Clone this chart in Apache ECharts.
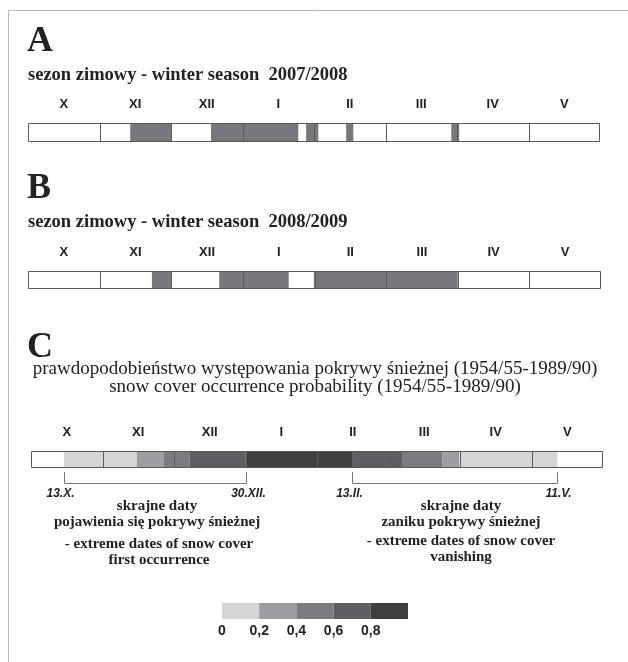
<!DOCTYPE html>
<html><head><meta charset="utf-8">
<script src="https://cdn.jsdelivr.net/npm/echarts@6/dist/echarts.min.js"></script>
<style>html,body{margin:0;padding:0;background:#fff}#c{width:628px;height:662px}</style>
</head><body><div id="c"></div>
<script>
// Months of the winter season (October .. May); positions in month units, 0 = 1 Oct, 8 = 31 May
const months = ['X','XI','XII','I','II','III','IV','V'];
const monthDividers = [1,2,3,4,5,6,7];
// A: snow cover periods 2007/2008 [start, end]
const seasonA = [[1.43,2.0],[2.56,3.78],[3.89,4.06],[4.45,4.55],[5.92,6.03]];
// B: snow cover periods 2008/2009
const seasonB = [[1.73,2.0],[2.67,3.64],[3.99,6.0]];
// C: probability classes along the season
const probStart = [0.46,1.48,1.86,2.22,3.0,4.49,5.2,5.75,5.99];
const probEnd   = [1.48,1.86,2.22,3.0,4.49,5.2,5.75,5.99,7.36];
const probClass = [0,1,2,3,4,3,2,1,0];
// legend classes
const classBreaks = [0,0.2,0.4,0.6,0.8,1.0];
const classColors = ['#d4d5d7','#9d9ea1','#7b7c7f','#5e5f62','#3e3f41'];
const snowColor = '#77787b';
// extreme dates brackets
const firstRange = [0.46, 3.0];
const firstLabels = ['13.X.','30.XII.'];
const lastRange = [4.49, 7.36];
const lastLabels = ['13.II.','11.V.'];

const chart = echarts.init(document.getElementById('c'), null, {renderer:'canvas'});
const lineCol = '#5a5a5a';
const px = v => Math.round(v) + 0.5;

function segRender(colorFn){
  return function(params, api){
    const a = api.coord([api.value(0), 1]);
    const b = api.coord([api.value(1), 0]);
    return {type:'rect', shape:{x:a[0], y:a[1], width:b[0]-a[0], height:b[1]-a[1]},
      style:{fill: colorFn(api)}};
  };
}
function dividerRender(params, api){
  const a = api.coord([api.value(0), 1]);
  const b = api.coord([api.value(0), 0]);
  const x = px(a[0]);
  return {type:'line', shape:{x1:x, y1:a[1], x2:x, y2:b[1]}, style:{stroke:lineCol, lineWidth:1}};
}
function frameRender(params, api){
  const a = api.coord([api.value(0), 1]);
  const b = api.coord([api.value(1), 0]);
  const x1 = px(a[0]), y1 = px(a[1]), x2 = px(b[0]) - 1, y2 = px(b[1]) - 1;
  return {type:'rect', shape:{x:x1, y:y1, width:x2-x1, height:y2-y1}, style:{fill:null, stroke:lineCol, lineWidth:1}};
}
function bracketRender(labels, shift){
  return function(params, api){
    const a = api.coord([api.value(0), 0]);
    const b = api.coord([api.value(1), 0]);
    const x1 = px(a[0]), x2 = px(b[0]);
    const yt = a[1] + 4, yb = px(a[1] + 15);
    return {type:'group', children:[
      {type:'polyline', shape:{points:[[x1,yt],[x1,yb],[x2,yb],[x2,yt]]}, style:{fill:null, stroke:'#777', lineWidth:1}},
      {type:'text', style:{x:x1 + shift[0], y:yb + 10, text:labels[0], align:'center', verticalAlign:'middle', font:'italic bold 12px "Liberation Sans", Arial', fill:'#222'}},
      {type:'text', style:{x:x2 + shift[1], y:yb + 10, text:labels[1], align:'center', verticalAlign:'middle', font:'italic bold 12px "Liberation Sans", Arial', fill:'#222'}}
    ]};
  };
}

const grids = [
  {left:28, top:123, width:572, height:19},
  {left:28, top:271, width:573, height:18},
  {left:31, top:451, width:572, height:17},
  {left:222, top:603, width:186, height:16}
];
const xAxes = [], yAxes = [];
for (let i = 0; i < 3; i++) {
  xAxes.push({gridIndex:i, type:'value', min:0, max:8, show:false});
  xAxes.push({gridIndex:i, type:'category', data:months, position:'top', boundaryGap:true,
    axisLine:{show:false}, axisTick:{show:false}, splitLine:{show:false},
    axisLabel:{margin:12, fontFamily:'"Liberation Sans", Arial', fontWeight:'bold', fontSize:13, color:'#222'}});
  yAxes.push({gridIndex:i, type:'value', min:0, max:1, show:false});
}
// legend axis (index 6)
xAxes.push({gridIndex:3, type:'value', min:0, max:1, interval:0.2,
  axisLine:{show:false}, axisTick:{show:false}, splitLine:{show:false},
  axisLabel:{margin:5, fontFamily:'"Liberation Sans", Arial', fontWeight:'bold', fontSize:14, color:'#222',
    formatter: v => v >= 1 ? '' : String(Math.round(v*10)/10).replace('.', ',')}});
yAxes.push({gridIndex:3, type:'value', min:0, max:1, show:false});

const series = [];
const seasons = [seasonA, seasonB];
for (let i = 0; i < 2; i++) {
  series.push({type:'custom', xAxisIndex:2*i, yAxisIndex:i, data:seasons[i], renderItem:segRender(() => snowColor), silent:true});
}
series.push({type:'custom', xAxisIndex:4, yAxisIndex:2,
  data: probStart.map((s, k) => [s, probEnd[k], probClass[k]]),
  renderItem: segRender(api => classColors[api.value(2)]), silent:true});
for (let i = 0; i < 3; i++) {
  series.push({type:'custom', xAxisIndex:2*i, yAxisIndex:i, data:monthDividers.map(m => [m]), renderItem:dividerRender, silent:true, z:3});
  series.push({type:'custom', xAxisIndex:2*i, yAxisIndex:i, data:[[0,8]], renderItem:frameRender, silent:true, z:4});
}
series.push({type:'custom', xAxisIndex:4, yAxisIndex:2, data:[firstRange], renderItem:bracketRender(firstLabels,[-4,2]), silent:true});
series.push({type:'custom', xAxisIndex:4, yAxisIndex:2, data:[lastRange], renderItem:bracketRender(lastLabels,[-3,1]), silent:true});
series.push({type:'custom', xAxisIndex:6, yAxisIndex:3,
  data: classColors.map((c, k) => [classBreaks[k], classBreaks[k+1], k]),
  renderItem: segRender(api => classColors[api.value(2)]), silent:true});

const serifB = 'bold 18.5px "Liberation Serif", "Times New Roman", serif';
const ann = 'bold 15px "Liberation Serif", "Times New Roman", serif';
function t(x, y, text, font, align){
  return {type:'text', x:x, y:y, style:{text:text, font:font, fill:'#222', align:align||'left', verticalAlign:'middle'}};
}
const graphic = [
  {type:'line', shape:{x1:8.5, y1:10.5, x2:628, y2:10.5}, style:{stroke:'#bbb', lineWidth:1}},
  {type:'line', shape:{x1:8.5, y1:10.5, x2:8.5, y2:662}, style:{stroke:'#bbb', lineWidth:1}},
  t(27, 42, 'A', 'bold 36px "Liberation Serif", serif'),
  t(28, 75, 'sezon zimowy - winter season  2007/2008', serifB),
  t(27, 189, 'B', 'bold 36px "Liberation Serif", serif'),
  t(28, 222, 'sezon zimowy - winter season  2008/2009', serifB),
  t(27, 348, 'C', 'bold 36px "Liberation Serif", serif'),
  t(315, 369, 'prawdopodobieństwo występowania pokrywy śnieżnej (1954/55-1989/90)', '19px "Liberation Serif", serif', 'center'),
  t(315, 387, 'snow cover occurrence probability (1954/55-1989/90)', '19px "Liberation Serif", serif', 'center'),
  t(157, 506, 'skrajne daty', ann, 'center'),
  t(157, 522, 'pojawienia się pokrywy śnieżnej', ann, 'center'),
  t(159, 544, '- extreme dates of snow cover', ann, 'center'),
  t(159, 560, 'first occurrence', ann, 'center'),
  t(461, 506, 'skrajne daty', ann, 'center'),
  t(461, 522, 'zaniku pokrywy śnieżnej', ann, 'center'),
  t(461, 541, '- extreme dates of snow cover', ann, 'center'),
  t(461, 557, 'vanishing', ann, 'center')
];

chart.setOption({animation:false, backgroundColor:'#fff', grid:grids, xAxis:xAxes, yAxis:yAxes, series:series, graphic:graphic});
</script></body></html>
